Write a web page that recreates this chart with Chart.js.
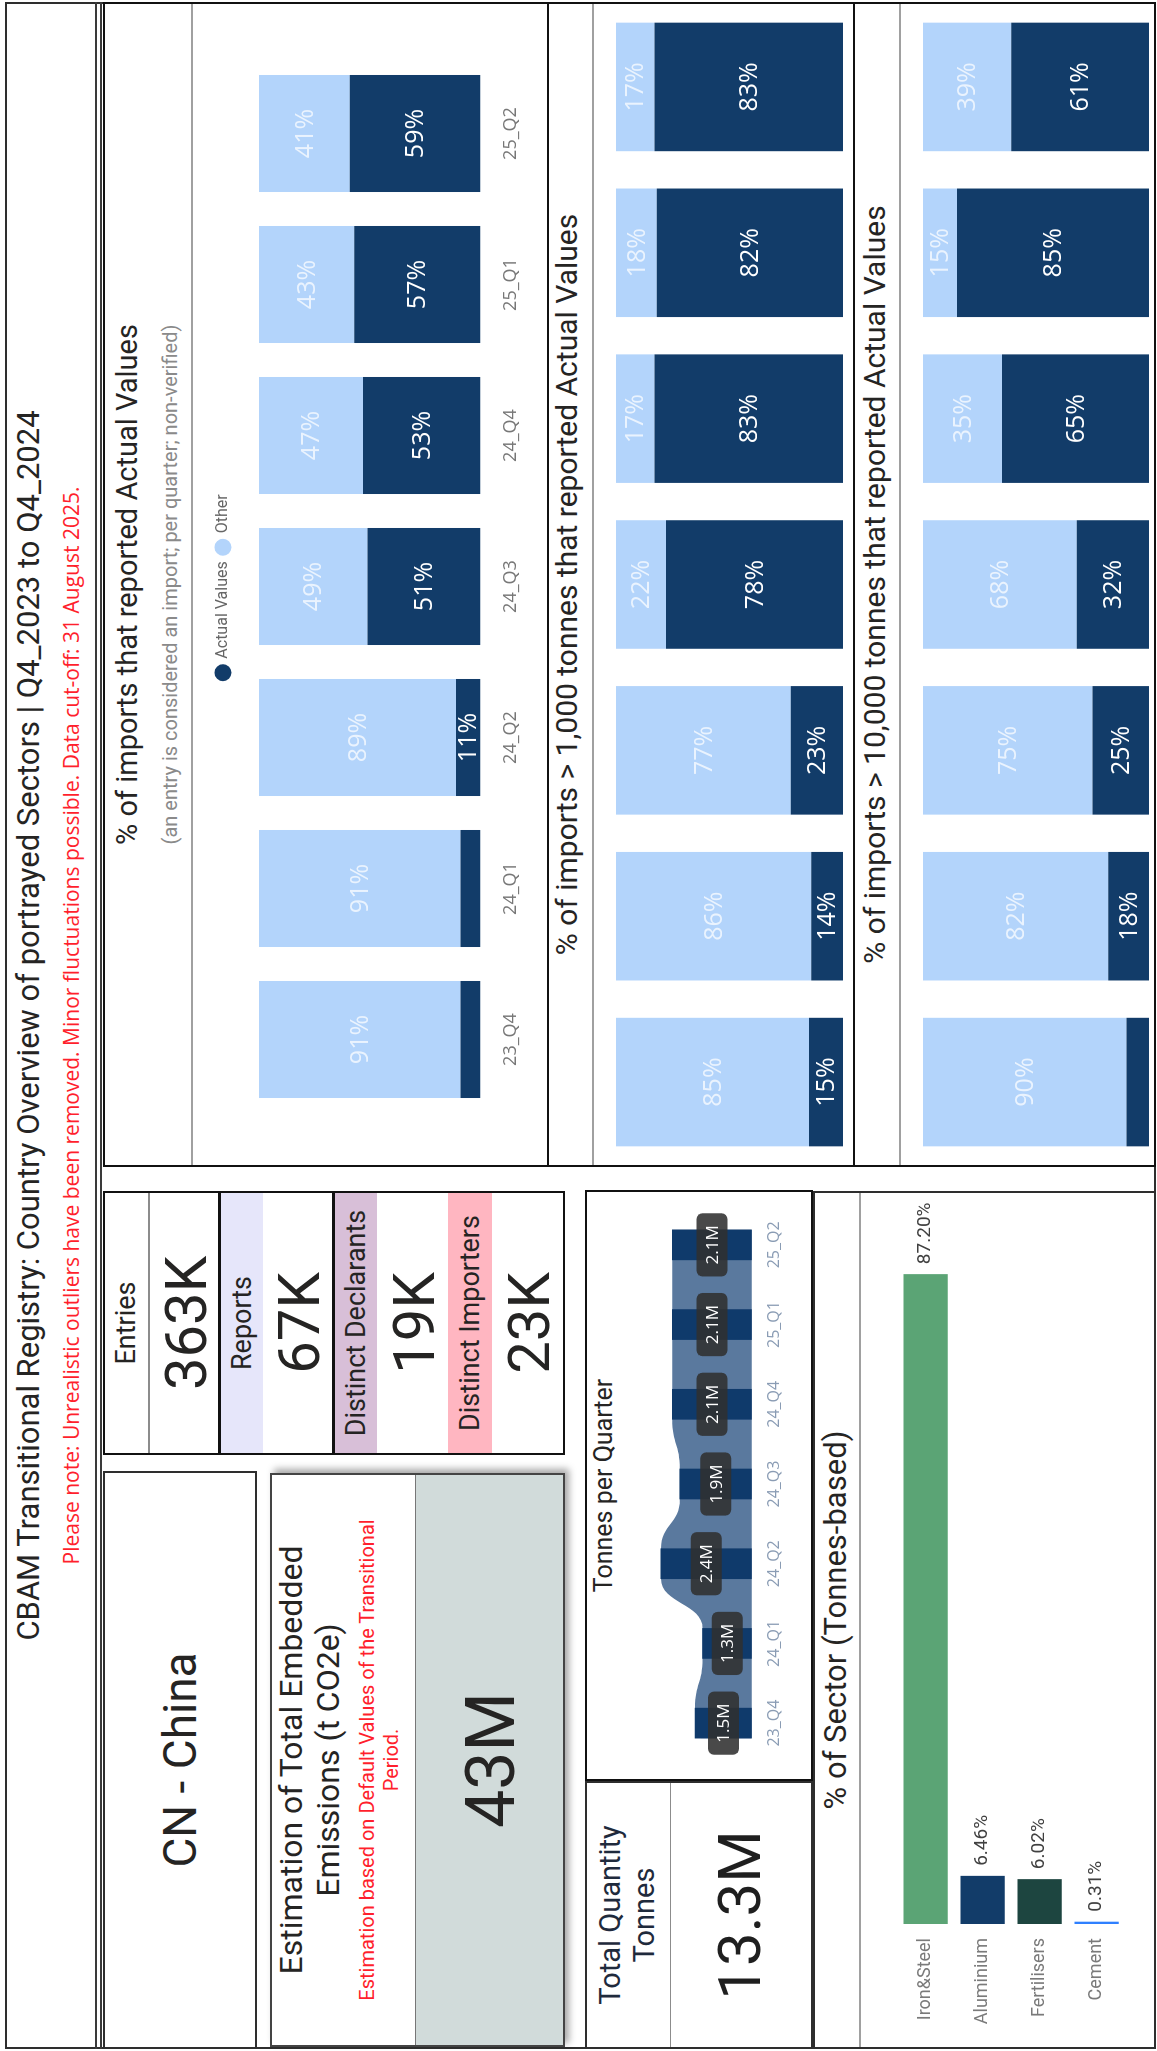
<!DOCTYPE html>
<html lang="en">
<head>
<meta charset="utf-8">
<title>CBAM Transitional Registry – CN - China</title>
<script src="https://cdn.jsdelivr.net/npm/chart.js@4.4.1/dist/chart.umd.min.js"></script>
<style>
  html, body { margin:0; padding:0; background:#fff; }
  body { width:1157px; height:2051px; overflow:hidden; position:relative; }
  /* the report page is laid out in landscape and turned a quarter turn */
  #board { position:absolute; left:0; top:0; width:2051px; height:1157px;
    transform-origin:0 0; transform:translate(0,2051px) rotate(-90deg);
    background:#fff; color:#252423; font-family:Roboto,"DejaVu Sans",sans-serif; }
  .box { position:absolute; box-sizing:border-box; }
  .frame { border:2px solid #2e2e2e; }
  .rule { position:absolute; background:#3a3a3a; }
  .grayrule { position:absolute; height:2px; background:#a0a0a0; }
  .txt { position:absolute; text-align:center; white-space:nowrap; }
  canvas { position:absolute; }
  .kpi > div { position:absolute; left:0; width:100%; text-align:center; white-space:nowrap; }
  .kh { font-size:27px; }
  .kv { font-size:58px; }
</style>
</head>
<body>
<div id="board">
  <!-- page frame and header -->
  <div class="box frame" style="left:2px;top:5px;width:2047px;height:1151px;"></div>
  <div class="txt" style="left:0;top:11px;width:2051px;font-size:31px;line-height:36px;">CBAM Transitional Registry: Country Overview of portrayed Sectors | Q4_2023 to Q4_2024</div>
  <div class="txt" style="left:0;top:58px;width:2051px;font-size:21px;line-height:26px;color:#ff1f2d;font-family:'Open Sans',sans-serif;">Please note: Unrealistic outliers have been removed. Minor fluctuations possible. Data cut-off: 31 August 2025.</div>
  <div class="rule" style="left:2px;top:95px;width:2047px;height:2px;"></div>
  <div class="rule" style="left:2px;top:100px;width:2047px;height:2px;"></div>

  <!-- country card -->
  <div class="box frame" style="left:2px;top:103px;width:578px;height:154px;">
    <div class="txt" style="left:0;top:0;width:100%;line-height:150px;font-size:46px;">CN - China</div>
  </div>

  <!-- emissions estimate card -->
  <div class="box frame" style="left:4px;top:270px;width:574px;height:295px;border-color:#444;box-shadow:4px 4px 7px rgba(0,0,0,0.35);">
    <div class="txt" style="left:0;top:1px;width:100%;font-size:32px;line-height:37px;">Estimation of Total Embedded<br>Emissions (t CO2e)</div>
    <div class="txt" style="left:0;top:83px;width:100%;font-size:20px;line-height:24px;color:#ff1f2d;">Estimation based on Default Values of the Transitional<br>Period.</div>
    <div class="box" style="left:0;top:143px;width:100%;height:148px;background:#d1dbda;border-top:1px solid #777;">
      <div class="txt" style="left:0;top:0;width:100%;line-height:150px;font-size:68px;">43M</div>
    </div>
  </div>

  <!-- KPI stack -->
  <div class="box frame kpi" style="left:596px;top:103px;width:264px;height:462px;border-color:#111;">
    <div class="kh" style="top:0;height:43px;line-height:43px;border-bottom:2px solid #8c8c8c;">Entries</div>
    <div class="kv" style="top:45px;height:68px;line-height:72px;">363K</div>
    <div style="top:113px;height:3px;background:#111;"></div>
    <div class="kh" style="top:116px;height:42px;line-height:42px;background:#e6e6fa;">Reports</div>
    <div class="kv" style="top:158px;height:69px;line-height:72px;">67K</div>
    <div style="top:227px;height:3px;background:#111;"></div>
    <div class="kh" style="top:230px;height:42px;line-height:42px;background:#d8bfd8;">Distinct Declarants</div>
    <div class="kv" style="top:272px;height:71px;line-height:74px;">19K</div>
    <div class="kh" style="top:343px;height:44px;line-height:44px;background:#ffb6c1;">Distinct Importers</div>
    <div class="kv" style="top:387px;height:71px;line-height:74px;">23K</div>
  </div>

  <!-- total quantity card -->
  <div class="box frame" style="left:2px;top:585px;width:268px;height:228px;">
    <div class="txt" style="left:0;top:6px;width:100%;font-size:29px;line-height:34px;color:#1f2a3c;">Total Quantity<br>Tonnes</div>
    <div class="box" style="left:0;top:83px;width:100%;height:1px;background:#8c8c8c;"></div>
    <div class="txt" style="left:0;top:84px;width:100%;line-height:138px;font-size:60px;color:#1f1f1f;">13.3M</div>
  </div>

  <!-- tonnes per quarter -->
  <div class="box frame" style="left:270px;top:585px;width:591px;height:228px;border-color:#111;"></div>
  <div class="txt" style="left:270px;top:589px;width:591px;font-size:25px;line-height:30px;">Tonnes per Quarter</div>
  <canvas id="tonnesChart" width="587" height="172" style="left:272px;top:630px;"></canvas>

  <!-- sector split -->
  <div class="box frame" style="left:2px;top:813px;width:858px;height:343px;"></div>
  <div class="txt" style="left:2px;top:818px;width:858px;font-size:31px;line-height:35px;">% of Sector (Tonnes-based)</div>
  <div class="grayrule" style="left:4px;top:859px;width:854px;"></div>
  <canvas id="sectorChart" width="854" height="280" style="left:4px;top:870px;"></canvas>

  <!-- actual-value shares -->
  <div class="box frame" style="left:884px;top:103px;width:1165px;height:446px;border-color:#111;"></div>
  <div class="txt" style="left:884px;top:110px;width:1165px;font-size:29px;line-height:34px;">% of imports that reported Actual Values</div>
  <div class="txt" style="left:884px;top:157px;width:1165px;font-size:20px;line-height:26px;color:#8a8a8a;">(an entry is considered an import; per quarter; non-verified)</div>
  <div class="grayrule" style="left:886px;top:191px;width:1161px;"></div>
  <canvas id="shareAll" width="1161" height="340" style="left:886px;top:205px;"></canvas>

  <div class="box frame" style="left:884px;top:547px;width:1165px;height:308px;border-color:#111;"></div>
  <div class="txt" style="left:884px;top:550px;width:1165px;font-size:30px;line-height:34px;">% of imports &gt; 1,000 tonnes that reported Actual Values</div>
  <div class="grayrule" style="left:886px;top:592px;width:1161px;"></div>
  <canvas id="shareOver1k" width="1161" height="250" style="left:886px;top:600px;"></canvas>

  <div class="box frame" style="left:884px;top:853px;width:1165px;height:303px;border-color:#111;"></div>
  <div class="txt" style="left:884px;top:858px;width:1165px;font-size:30px;line-height:34px;">% of imports &gt; 10,000 tonnes that reported Actual Values</div>
  <div class="grayrule" style="left:886px;top:899px;width:1161px;"></div>
  <canvas id="shareOver10k" width="1161" height="246" style="left:886px;top:906px;"></canvas>
</div>

<script>
// ---- data ----
const quarters = ['23_Q4', '24_Q1', '24_Q2', '24_Q3', '24_Q4', '25_Q1', '25_Q2'];

const actualAll = [9, 9, 11, 51, 53, 57, 59];
const otherAll = [91, 91, 89, 49, 47, 43, 41];

const actualOver1k = [15, 14, 23, 78, 83, 82, 83];
const otherOver1k = [85, 86, 77, 22, 17, 18, 17];

const actualOver10k = [10, 18, 25, 32, 65, 85, 61];
const otherOver10k = [90, 82, 75, 68, 35, 15, 39];

const tonnesPerQuarterM = [1.5, 1.3, 2.4, 1.9, 2.1, 2.1, 2.1];

const sectors = ['Iron&Steel', 'Aluminium', 'Fertilisers', 'Cement'];
const sectorShare = [87.20, 6.46, 6.02, 0.31];

// ---- styling ----
const NAVY = '#123c69';
const LIGHT = '#b3d4fb';
const sectorColors = ['#5ba475', '#123c69', '#1d4540', '#2f80ff'];
const DIN = 'Roboto, "DejaVu Sans", sans-serif';
const SEGOE = '"Open Sans", "DejaVu Sans", sans-serif';

// percentage written in the middle of each stacked segment
const insideLabels = {
  id: 'insideLabels',
  afterDatasetsDraw(chart, args, opts) {
    const ctx = chart.ctx;
    ctx.save();
    ctx.font = opts.font;
    ctx.textAlign = 'center';
    ctx.textBaseline = 'middle';
    chart.data.datasets.forEach((ds, di) => {
      chart.getDatasetMeta(di).data.forEach((bar, i) => {
        const v = ds.data[i];
        if (v < opts.minValue) return;
        const p = bar.getProps(['x', 'y', 'base'], true);
        ctx.fillStyle = ds.labelColor;
        ctx.fillText(v + '%', p.x, (p.y + p.base) / 2 + 1);
      });
    });
    ctx.restore();
  }
};

// extra room between the legend row and the bars
const legendGap = {
  id: 'legendGap',
  beforeInit(chart, args, opts) {
    if (!chart.legend) return;
    const fit = chart.legend.fit;
    chart.legend.fit = function () { fit.call(this); this.height += opts.gap || 0; };
  }
};

// value written just past the end of each horizontal bar
const endLabels = {
  id: 'endLabels',
  afterDatasetsDraw(chart, args, opts) {
    const ctx = chart.ctx;
    ctx.save();
    ctx.font = opts.font;
    ctx.fillStyle = opts.color;
    ctx.textAlign = 'left';
    ctx.textBaseline = 'middle';
    const ds = chart.data.datasets[0];
    chart.getDatasetMeta(0).data.forEach((bar, i) => {
      const p = bar.getProps(['x', 'y'], true);
      ctx.fillText(ds.data[i].toFixed(2) + '%', p.x + 10, p.y);
    });
    ctx.restore();
  }
};

// area with a flat top over every quarter and smooth steps between them
const plateauArea = {
  id: 'plateauArea',
  beforeDatasetDraw(chart, args) {
    const ds = chart.data.datasets[args.index];
    if (!ds.plateau) return;
    const pts = args.meta.data;
    const base = chart.scales.y.getPixelForValue(0);
    const h = ds.plateau;
    const ctx = chart.ctx;
    ctx.save();
    ctx.beginPath();
    ctx.moveTo(pts[0].x - h, base);
    ctx.lineTo(pts[0].x - h, pts[0].y + 6);
    ctx.quadraticCurveTo(pts[0].x - h, pts[0].y, pts[0].x - h + 6, pts[0].y);
    for (let i = 0; i < pts.length; i++) {
      const p = pts[i];
      ctx.lineTo(p.x + h, p.y);
      if (i < pts.length - 1) {
        const q = pts[i + 1];
        const mx = (p.x + q.x) / 2;
        ctx.bezierCurveTo(mx, p.y, mx, q.y, q.x - h, q.y);
      }
    }
    const last = pts[pts.length - 1];
    ctx.lineTo(last.x + h, base);
    ctx.closePath();
    ctx.fillStyle = ds.backgroundColor;
    ctx.fill();
    ctx.restore();
    return false;
  }
};

// dark rounded tag with the quarter's tonnage in the middle of each column
const pillLabels = {
  id: 'pillLabels',
  afterDatasetsDraw(chart) {
    const ctx = chart.ctx;
    ctx.save();
    ctx.font = '17px ' + SEGOE;
    ctx.textAlign = 'center';
    ctx.textBaseline = 'middle';
    chart.data.datasets.forEach((ds, di) => {
      const meta = chart.getDatasetMeta(di);
      if (meta.type !== 'bar') return;
      meta.data.forEach((bar, i) => {
        const p = bar.getProps(['x', 'y', 'base'], true);
        const cy = (p.y + p.base) / 2;
        const text = ds.data[i].toFixed(1) + 'M';
        const w = ctx.measureText(text).width + 24;
        const hgt = 31, r = 6;
        const x0 = p.x - w / 2, y0 = cy - hgt / 2;
        ctx.beginPath();
        ctx.moveTo(x0 + r, y0);
        ctx.arcTo(x0 + w, y0, x0 + w, y0 + hgt, r);
        ctx.arcTo(x0 + w, y0 + hgt, x0, y0 + hgt, r);
        ctx.arcTo(x0, y0 + hgt, x0, y0, r);
        ctx.arcTo(x0, y0, x0 + w, y0, r);
        ctx.closePath();
        ctx.fillStyle = 'rgba(48,48,48,0.88)';
        ctx.fill();
        ctx.fillStyle = '#ffffff';
        ctx.fillText(text, p.x, cy + 1);
      });
    });
    ctx.restore();
  }
};

function shareChart(id, actual, other, cfg) {
  return new Chart(document.getElementById(id), {
    type: 'bar',
    data: {
      labels: quarters,
      datasets: [
        { label: 'Actual Values', data: actual, backgroundColor: NAVY, labelColor: '#ffffff' },
        { label: 'Other', data: other, backgroundColor: LIGHT, labelColor: 'rgba(255,255,255,0.72)' }
      ]
    },
    options: {
      responsive: false,
      animation: false,
      layout: { padding: cfg.padding },
      datasets: { bar: { categoryPercentage: 1, barPercentage: 0.775 } },
      scales: {
        x: {
          stacked: true,
          display: cfg.showTicks,
          grid: { display: false, drawTicks: false },
          border: { display: false },
          ticks: { color: '#777777', font: { family: SEGOE, size: 18 }, padding: 20 }
        },
        y: { stacked: true, display: false, min: 0, max: 100 }
      },
      plugins: {
        legend: cfg.legend ? {
          display: true,
          position: 'top',
          labels: {
            usePointStyle: true, pointStyle: 'circle', boxWidth: 12, boxHeight: 12,
            padding: 8, color: '#666666', font: { family: DIN, size: 16 }
          }
        } : { display: false },
        legendGap: { gap: cfg.legendGap || 0 },
        tooltip: { enabled: false },
        insideLabels: { font: '25px ' + SEGOE, minValue: 11 }
      }
    },
    plugins: [insideLabels, legendGap]
  });
}

shareChart('shareAll', actualAll, otherAll,
  { padding: { left: 50, right: 54, top: 2, bottom: 3 }, showTicks: true, legend: true, legendGap: 18 });
shareChart('shareOver1k', actualOver1k, otherOver1k,
  { padding: { left: 0, right: 0, top: 16, bottom: 7 }, showTicks: false, legend: false });
shareChart('shareOver10k', actualOver10k, otherOver10k,
  { padding: { left: 0, right: 0, top: 17, bottom: 3 }, showTicks: false, legend: false });

new Chart(document.getElementById('tonnesChart'), {
  type: 'bar',
  data: {
    labels: quarters,
    datasets: [
      { type: 'line', data: tonnesPerQuarterM, backgroundColor: '#5a799e', borderWidth: 0,
        pointRadius: 0, fill: false, order: 2, plateau: 15 },
      { type: 'bar', data: tonnesPerQuarterM, backgroundColor: '#0f3a6b', barThickness: 30, order: 1 }
    ]
  },
  options: {
    responsive: false,
    animation: false,
    layout: { padding: { left: 16, right: 13, top: 12, bottom: 5 } },
    scales: {
      x: {
        offset: true,
        grid: { display: false, drawTicks: false },
        border: { display: false },
        ticks: { color: '#8a9cb4', font: { family: SEGOE, size: 16 }, padding: 13 }
      },
      y: { display: false, min: 0, max: 2.9 }
    },
    plugins: { legend: { display: false }, tooltip: { enabled: false } }
  },
  plugins: [plateauArea, pillLabels]
});

new Chart(document.getElementById('sectorChart'), {
  type: 'bar',
  data: {
    labels: sectors,
    datasets: [{ data: sectorShare, backgroundColor: sectorColors, categoryPercentage: 1, barPercentage: 0.776 }]
  },
  options: {
    indexAxis: 'y',
    responsive: false,
    animation: false,
    layout: { padding: { left: 23, right: 23, top: 27, bottom: 21 } },
    scales: {
      x: { display: false, min: 0, max: 95 },
      y: {
        grid: { display: false, drawTicks: false },
        border: { display: false },
        ticks: { color: '#7a7a7a', font: { family: DIN, size: 18 }, padding: 14 },
        afterFit: (scale) => { scale.width = 100; }
      }
    },
    plugins: {
      legend: { display: false },
      tooltip: { enabled: false },
      endLabels: { font: '19px ' + DIN, color: '#404040' }
    }
  },
  plugins: [endLabels]
});
</script>
</body>
</html>
